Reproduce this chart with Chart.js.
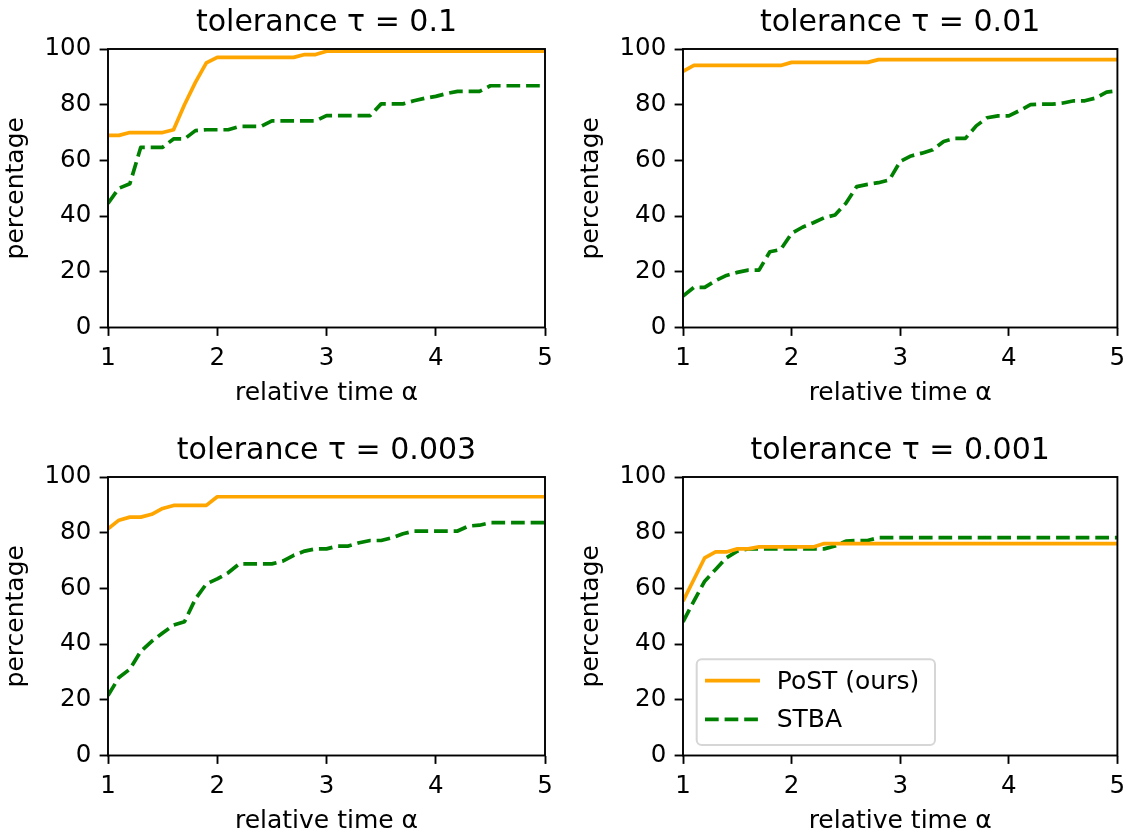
<!DOCTYPE html>
<html>
<head>
<meta charset="utf-8">
<script src="https://cdn.jsdelivr.net/npm/chart.js@4.4.0/dist/chart.umd.min.js"></script>
<style>
  html, body { margin: 0; padding: 0; background: #fff; overflow: hidden; }
  .panel { position: absolute; }
</style>
</head>
<body>
<div class="panel" style="left:0;top:0"><canvas id="c1" width="566" height="409"></canvas></div>
<div class="panel" style="left:575px;top:0"><canvas id="c2" width="558" height="409"></canvas></div>
<div class="panel" style="left:0;top:428px"><canvas id="c3" width="566" height="408"></canvas></div>
<div class="panel" style="left:575px;top:428px"><canvas id="c4" width="558" height="408"></canvas></div>
<script>
// relative time alpha (x values shared by every panel)
const alpha = [1.0, 1.1, 1.2, 1.3, 1.4, 1.5, 1.6, 1.7, 1.8, 1.9,
               2.0, 2.1, 2.2, 2.3, 2.4, 2.5, 2.6, 2.7, 2.8, 2.9,
               3.0, 3.1, 3.2, 3.3, 3.4, 3.5, 3.6, 3.7, 3.8, 3.9,
               4.0, 4.1, 4.2, 4.3, 4.4, 4.5, 4.6, 4.7, 4.8, 4.9, 5.0];

const xTicks = [1, 2, 3, 4, 5];
const yTicks = [0, 20, 40, 60, 80, 100];
const seriesNames = ['PoST (ours)', 'STBA'];
const tolerances = ['0.1', '0.01', '0.003', '0.001'];

// tau = 0.1
const post01 = [69, 69, 70, 70, 70, 70, 71, 80, 88, 95,
                97, 97, 97, 97, 97, 97, 97, 97, 98, 98,
                99.2, 99.2, 99.2, 99.2, 99.2, 99.2, 99.2, 99.2, 99.2, 99.2,
                99.2, 99.2, 99.2, 99.2, 99.2, 99.2, 99.2, 99.2, 99.2, 99.2, 99.2];
const stba01 = [44.6, 50, 51.6, 64.7, 64.7, 64.7, 67.7, 67.7, 70.7, 71,
                71, 71, 72.2, 72.2, 72.2, 74.2, 74.2, 74.2, 74.2, 74.2,
                76.1, 76.1, 76.1, 76.1, 76.1, 80.3, 80.3, 80.3, 81.4, 82.3,
                83, 84, 84.8, 84.8, 84.8, 86.8, 86.8, 86.8, 86.8, 86.8, 86.8];

// tau = 0.01
const post001 = [92, 94.1, 94.1, 94.1, 94.1, 94.1, 94.1, 94.1, 94.1, 94.1,
                 95.2, 95.2, 95.2, 95.2, 95.2, 95.2, 95.2, 95.2, 96.2, 96.2,
                 96.2, 96.2, 96.2, 96.2, 96.2, 96.2, 96.2, 96.2, 96.2, 96.2,
                 96.2, 96.2, 96.2, 96.2, 96.2, 96.2, 96.2, 96.2, 96.2, 96.2, 96.2];
const stba001 = [11.3, 14.4, 14.4, 16.8, 18.7, 19.8, 20.6, 20.6, 27.2, 28,
                 33.8, 36, 37.6, 39.4, 40.4, 44.6, 50.6, 51.4, 52, 53,
                 59.6, 61.6, 62.6, 63.8, 66.8, 67.9, 67.9, 72.4, 75.3, 76,
                 76, 77.9, 80, 80.2, 80.2, 80.6, 81.4, 81.4, 82.4, 84.5, 85];

// tau = 0.003
const post0003 = [81.4, 84.5, 85.6, 85.6, 86.6, 88.7, 89.8, 89.8, 89.8, 89.8,
                  92.9, 92.9, 92.9, 92.9, 92.9, 92.9, 92.9, 92.9, 92.9, 92.9,
                  92.9, 92.9, 92.9, 92.9, 92.9, 92.9, 92.9, 92.9, 92.9, 92.9,
                  92.9, 92.9, 92.9, 92.9, 92.9, 92.9, 92.9, 92.9, 92.9, 92.9, 92.9];
const stba0003 = [21.5, 28, 31, 37.4, 41, 44, 46.8, 48, 56.2, 61.6,
                  63.4, 65.6, 68.8, 68.8, 68.8, 68.8, 69.8, 71.9, 73.4, 74.2,
                  74.2, 75.2, 75.2, 76.4, 77.2, 77.2, 78.2, 79.6, 80.6, 80.6,
                  80.6, 80.6, 80.6, 82.4, 82.7, 83.6, 83.6, 83.6, 83.6, 83.6, 83.6];

// tau = 0.001
const post0001 = [55.4, 63.2, 71, 73.1, 73.1, 74.2, 74.2, 74.9, 74.9, 74.9,
                  74.9, 74.9, 74.9, 76.1, 76.1, 76.1, 76.1, 76.1, 76.1, 76.1,
                  76.1, 76.1, 76.1, 76.1, 76.1, 76.1, 76.1, 76.1, 76.1, 76.1,
                  76.1, 76.1, 76.1, 76.1, 76.1, 76.1, 76.1, 76.1, 76.1, 76.1, 76.1];
const stba0001 = [48, 55.4, 62.6, 66.8, 71, 73.4, 74.2, 74.2, 74.2, 74.2,
                  74.2, 74.2, 74.2, 74.2, 75.2, 77, 77.2, 77.2, 78.2, 78.2,
                  78.2, 78.2, 78.2, 78.2, 78.2, 78.2, 78.2, 78.2, 78.2, 78.2,
                  78.2, 78.2, 78.2, 78.2, 78.2, 78.2, 78.2, 78.2, 78.2, 78.2, 78.2];

const FONT = "'DejaVu Sans', sans-serif";
Chart.defaults.font.family = FONT;
Chart.defaults.color = '#000';

// matplotlib-like box around the axes
const framePlugin = {
  id: 'frame',
  afterDatasetsDraw(chart) {
    const { ctx, chartArea: a } = chart;
    ctx.save();
    ctx.strokeStyle = '#000';
    ctx.lineWidth = 1.9;
    ctx.strokeRect(a.left, a.top, a.right - a.left, a.bottom - a.top);
    ctx.restore();
  }
};

// legend box in the lower-left corner, drawn like matplotlib's
const boxLegendPlugin = {
  id: 'boxLegend',
  afterDraw(chart, args, opts) {
    if (!opts.show) return;
    const { ctx, chartArea: a } = chart;
    const x0 = a.left + 13.7, y0 = a.bottom - 96.2, w = 238.3, h = 85.7, r = 5;
    ctx.save();
    ctx.beginPath();
    ctx.roundRect(x0, y0, w, h, r);
    ctx.fillStyle = 'rgba(255,255,255,0.8)';
    ctx.fill();
    ctx.lineWidth = 2;
    ctx.strokeStyle = 'rgba(204,204,204,0.8)';
    ctx.stroke();
    const rows = [21.4, 60];
    chart.data.datasets.forEach((ds, i) => {
      const y = y0 + rows[i];
      ctx.beginPath();
      ctx.setLineDash(ds.borderDash || []);
      ctx.lineWidth = ds.borderWidth;
      ctx.strokeStyle = ds.borderColor;
      ctx.lineCap = 'butt';
      ctx.moveTo(x0 + 8.3, y);
      ctx.lineTo(x0 + 63.3, y);
      ctx.stroke();
      ctx.setLineDash([]);
      ctx.fillStyle = '#000';
      ctx.font = '25px ' + FONT;
      ctx.textBaseline = 'middle';
      ctx.textAlign = 'left';
      ctx.fillText(ds.label, x0 + 80, y + 1.5);
    });
    ctx.restore();
  }
};

function makePanel(canvasId, tau, post, stba, padRight, showLegend) {
  const canvas = document.getElementById(canvasId);
  const H = canvas.height;
  const tickGrid = {
    drawOnChartArea: false,
    drawTicks: true,
    tickLength: 8.4,
    tickWidth: 1.9,
    tickColor: '#000'
  };
  return new Chart(canvas.getContext('2d'), {
    type: 'line',
    data: {
      datasets: [
        {
          label: seriesNames[0],
          data: alpha.map((a, i) => ({ x: a, y: post[i] })),
          borderColor: '#ffa500',
          borderWidth: 3.7,
          borderJoinStyle: 'round',
          pointRadius: 0,
          tension: 0,
          fill: false,
          clip: 0
        },
        {
          label: seriesNames[1],
          data: alpha.map((a, i) => ({ x: a, y: stba[i] })),
          borderColor: '#008000',
          borderWidth: 3.7,
          borderDash: [13.7, 5.9],
          borderCapStyle: 'butt',
          borderJoinStyle: 'round',
          pointRadius: 0,
          tension: 0,
          fill: false,
          clip: 0
        }
      ]
    },
    options: {
      responsive: false,
      animation: false,
      events: [],
      layout: { padding: { top: 0, left: 0, right: padRight, bottom: 0 } },
      plugins: {
        legend: { display: false },
        tooltip: { enabled: false },
        title: {
          display: true,
          fullSize: false,
          text: 'tolerance τ = ' + tau,
          color: '#000',
          font: { size: 30, weight: 'normal', family: FONT },
          padding: { top: 4.9, bottom: 8.1 }
        },
        boxLegend: { show: showLegend }
      },
      scales: {
        x: {
          type: 'linear',
          min: xTicks[0],
          max: xTicks[xTicks.length - 1],
          afterBuildTicks: s => { s.ticks = xTicks.map(v => ({ value: v })); },
          ticks: { padding: 7.8, maxRotation: 0, color: '#000', font: { size: 24.5 } },
          grid: tickGrid,
          border: { display: false },
          title: {
            display: true,
            text: 'relative time α',
            color: '#000',
            font: { size: 25 },
            padding: { top: 0, bottom: H - 408 }
          },
          afterFit: s => { s.height = H - 49 - 278.5; }
        },
        y: {
          type: 'linear',
          min: yTicks[0],
          max: yTicks[yTicks.length - 1],
          afterBuildTicks: s => { s.ticks = yTicks.map(v => ({ value: v })); },
          ticks: { padding: 8.3, color: '#000', font: { size: 24.5 } },
          grid: tickGrid,
          border: { display: false },
          title: {
            display: true,
            text: 'percentage',
            color: '#000',
            font: { size: 25 },
            padding: { top: 1.4, bottom: 0 }
          },
          afterFit: s => { s.width = 108; }
        }
      }
    },
    plugins: [framePlugin, boxLegendPlugin]
  });
}

makePanel('c1', tolerances[0], post01, stba01, 21, false);
makePanel('c2', tolerances[1], post001, stba001, 13, false);
makePanel('c3', tolerances[2], post0003, stba0003, 21, false);
makePanel('c4', tolerances[3], post0001, stba0001, 13, true);
</script>
</body>
</html>
